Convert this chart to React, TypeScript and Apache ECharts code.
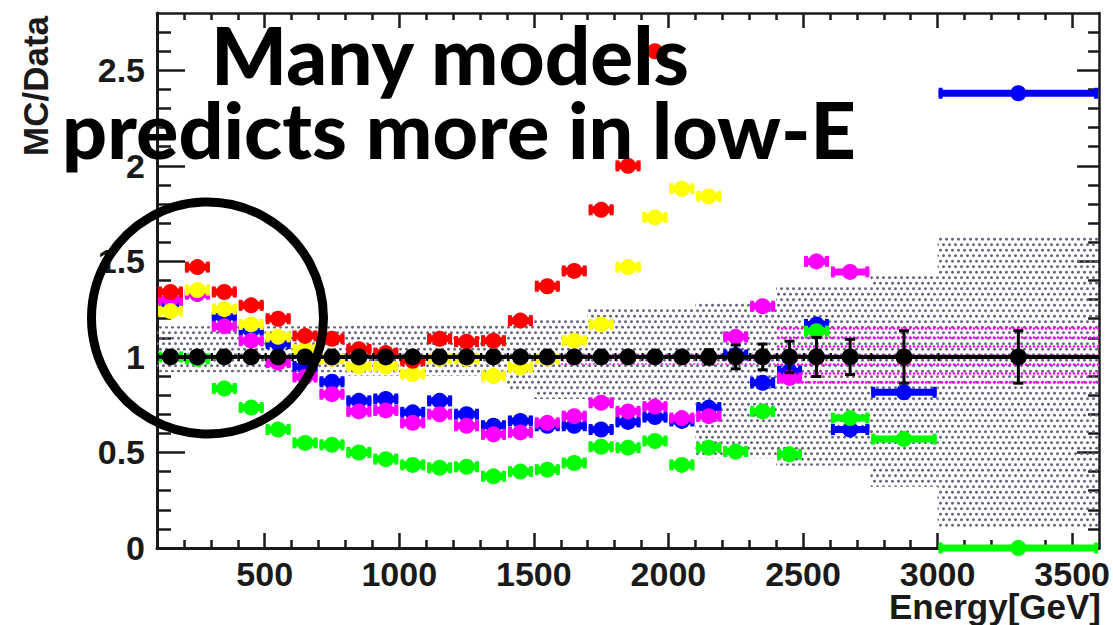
import React, { useEffect, useRef } from "react";
import * as echarts from "echarts";

// Energy bin edges (GeV): 100 GeV bins up to 2.6 TeV, then wider bins
const binEdges = [
  100, 200, 300, 400, 500, 600, 700, 800, 900, 1000, 1100, 1200, 1300, 1400, 1500,
  1600, 1700, 1800, 1900, 2000, 2100, 2200, 2300, 2400, 2500, 2600, 2750, 3000, 3600,
];

// MC/Data ratio of each model, one value per bin (null = not drawn)
const redRatio = [
  1.34, 1.47, 1.34, 1.27, 1.2, 1.11, 1.095, 1.04, 1.02, 0.98, 1.095, 1.08, 1.085, 1.19,
  1.37, 1.45, 1.77, 2.0, 2.6, null, null, null, null, null, null, null, null, null,
];
const yellowRatio = [
  1.24, 1.35, 1.25, 1.17, 1.105, 1.04, 0.99, 0.95, 0.95, 0.91, 0.99, 0.99, 0.9, 0.945,
  0.99, 1.085, 1.17, 1.47, 1.73, 1.88, 1.84, null, null, null, null, null, null, null,
];
const magentaRatio = [
  1.3, 1.33, 1.16, 1.085, 0.97, 0.895, 0.805, 0.715, 0.72, 0.655, 0.7, 0.64, 0.595, 0.605,
  0.655, 0.69, 0.76, 0.715, 0.74, 0.68, 0.69, 1.105, 1.265, 0.89, 1.5, 1.445, null, null,
];
const blueRatio = [
  1.28, 1.33, 1.21, 1.14, 1.07, 0.95, 0.87, 0.77, 0.78, 0.71, 0.77, 0.7, 0.64, 0.665,
  0.64, 0.64, 0.62, 0.66, 0.685, 0.665, 0.735, 1.01, 0.865, 0.925, 1.17, 0.62, 0.815, 2.38,
];
const greenRatio = [
  1.0, 0.99, 0.835, 0.735, 0.62, 0.55, 0.54, 0.5, 0.465, 0.435, 0.42, 0.425, 0.375, 0.4,
  0.41, 0.445, 0.53, 0.525, 0.56, 0.435, 0.525, 0.505, 0.715, 0.49, 1.135, 0.68, 0.57, 0.0,
];

// Data points (ratio to itself) and their statistical errors
const dataRatio = [
  1, 1, 1, 1, 1, 1, 1, 1, 1, 1, 1, 1, 1, 1, 1, 1, 1, 1, 1, 1, 1, 1, 1, 1, 1, 1, 1, 1,
];
const dataError = [
  0.015, 0.015, 0.015, 0.015, 0.015, 0.015, 0.015, 0.015, 0.015, 0.015, 0.015, 0.015,
  0.015, 0.015, 0.015, 0.015, 0.015, 0.015, 0.02, 0.025, 0.04, 0.065, 0.07, 0.085, 0.105,
  0.095, 0.14, 0.14,
];

// Systematic uncertainty band (grey)
const systLow = [
  0.92, 0.92, 0.92, 0.92, 0.92, 0.92, 0.92, 0.9, 0.9, 0.9, 0.9, 0.9, 0.9, 0.83, 0.78,
  0.78, 0.76, 0.76, 0.76, 0.76, 0.47, 0.47, 0.47, 0.43, 0.43, 0.43, 0.32, 0.11,
];
const systHigh = [
  1.16, 1.16, 1.16, 1.16, 1.16, 1.16, 1.16, 1.17, 1.17, 1.17, 1.17, 1.17, 1.17, 1.18, 1.2,
  1.2, 1.26, 1.26, 1.26, 1.26, 1.29, 1.29, 1.29, 1.37, 1.37, 1.37, 1.43, 1.63,
];

// Second uncertainty band (magenta), high-energy part only
const altLow = [
  null, null, null, null, null, null, null, null, null, null, null, null, null, null, null,
  0.96, 0.96, 0.96, 0.96, 0.96, 0.96, 0.96, 0.96, 0.83, 0.83, 0.83, 0.83, 0.83,
];
const altHigh = [
  null, null, null, null, null, null, null, null, null, null, null, null, null, null, null,
  1.04, 1.04, 1.04, 1.04, 1.04, 1.04, 1.04, 1.04, 1.16, 1.16, 1.16, 1.16, 1.16,
];

const xRange = [100, 3600];
const yRange = [0, 2.8];
const xMajorTicks = [500, 1000, 1500, 2000, 2500, 3000, 3500];
const yMajorTicks = [0, 0.5, 1, 1.5, 2, 2.5];

function minorTicks(start: number, stop: number, step: number, majors: number[]) {
  const out: number[] = [];
  for (let k = Math.round(start / step); k * step <= stop + 1e-9; k++) {
    const v = +(k * step).toFixed(6);
    if (!majors.some((m) => Math.abs(m - v) < 1e-9)) out.push(v);
  }
  return out;
}
const xMinorTicks = minorTicks(200, 3500, 100, xMajorTicks);
const yMinorTicks = minorTicks(0.1, 2.7, 0.1, yMajorTicks);

const ink = "#1a1a1a";
const labelText = {
  fontFamily: "'Liberation Sans', Arial, sans-serif",
  fontWeight: "bold" as const,
  fontSize: 34,
  color: ink,
  formatter: (v: number) => String(v),
};

function binned(values: (number | null)[]) {
  const out: number[][] = [];
  values.forEach((v, i) => {
    if (v !== null) out.push([binEdges[i], binEdges[i + 1], v]);
  });
  return out;
}

function bandData(lo: (number | null)[], hi: (number | null)[]) {
  const out: number[][] = [];
  lo.forEach((v, i) => {
    const h = hi[i];
    if (v !== null && h !== null) out.push([binEdges[i], binEdges[i + 1], v, h]);
  });
  return out;
}

function dotPattern(w: number, h: number, dots: number[][], r: number, color: string) {
  const c = document.createElement("canvas");
  c.width = w;
  c.height = h;
  const ctx = c.getContext("2d")!;
  ctx.fillStyle = color;
  for (const [x, y] of dots) {
    ctx.beginPath();
    ctx.arc(x, y, r, 0, Math.PI * 2);
    ctx.fill();
  }
  return c;
}

function modelRenderer(color: string) {
  return (_params: any, api: any) => {
    const lo = api.value(0);
    const hi = api.value(1);
    const v = api.value(2);
    const p0 = api.coord([lo, v]);
    const p1 = api.coord([hi, v]);
    const cx = (p0[0] + p1[0]) / 2;
    const cy = p0[1];
    const bar = 7;
    const cap = 11;
    const capW = 4;
    return {
      type: "group",
      children: [
        {
          type: "rect",
          shape: { x: p0[0] + 1, y: cy - bar / 2, width: p1[0] - p0[0] - 2, height: bar },
          style: { fill: color },
        },
        {
          type: "rect",
          shape: { x: p0[0] + 1, y: cy - cap / 2, width: capW, height: cap },
          style: { fill: color },
        },
        {
          type: "rect",
          shape: { x: p1[0] - 1 - capW, y: cy - cap / 2, width: capW, height: cap },
          style: { fill: color },
        },
        { type: "circle", shape: { cx, cy, r: 8 }, style: { fill: color } },
      ],
    };
  };
}

function dataRenderer(_params: any, api: any) {
  const lo = api.value(0);
  const hi = api.value(1);
  const v = api.value(2);
  const err = api.value(3);
  const p0 = api.coord([lo, v]);
  const p1 = api.coord([hi, v]);
  const cx = (p0[0] + p1[0]) / 2;
  const cy = p0[1];
  const top = api.coord([lo, v + err])[1];
  const bot = api.coord([lo, v - err])[1];
  return {
    type: "group",
    children: [
      { type: "rect", shape: { x: p0[0], y: cy - 2, width: p1[0] - p0[0], height: 4 }, style: { fill: "#000" } },
      { type: "rect", shape: { x: p0[0], y: cy - 4, width: 2, height: 8 }, style: { fill: "#000" } },
      { type: "rect", shape: { x: cx - 1.5, y: top, width: 3, height: bot - top }, style: { fill: "#000" } },
      { type: "rect", shape: { x: cx - 5, y: top - 1, width: 10, height: 3 }, style: { fill: "#000" } },
      { type: "rect", shape: { x: cx - 5, y: bot - 2, width: 10, height: 3 }, style: { fill: "#000" } },
      { type: "circle", shape: { cx, cy, r: 8.5 }, style: { fill: "#000" } },
    ],
  };
}

function bandRenderer(pattern: HTMLCanvasElement) {
  return (_params: any, api: any) => {
    const a = api.coord([api.value(0), api.value(3)]);
    const b = api.coord([api.value(1), api.value(2)]);
    return {
      type: "rect",
      shape: { x: a[0], y: a[1], width: b[0] - a[0], height: b[1] - a[1] },
      style: { fill: { image: pattern, repeat: "repeat" } },
    };
  };
}

function xAxisDef(position: "top" | "bottom", ticks: number[], len: number, line: number, labels: boolean) {
  return {
    type: "value",
    min: xRange[0],
    max: xRange[1],
    position,
    axisLine: { show: line > 0, onZero: false, lineStyle: { color: ink, width: line || 1 } },
    axisTick: { show: true, inside: true, length: len, customValues: ticks, lineStyle: { color: ink, width: 2.5 } },
    axisLabel: labels ? { show: true, customValues: ticks, margin: 9, ...labelText } : { show: false },
    splitLine: { show: false },
  };
}

function yAxisDef(position: "left" | "right", ticks: number[], len: number, line: number, labels: boolean) {
  return {
    type: "value",
    min: yRange[0],
    max: yRange[1],
    position,
    axisLine: { show: line > 0, onZero: false, lineStyle: { color: ink, width: line || 1 } },
    axisTick: { show: true, inside: true, length: len, customValues: ticks, lineStyle: { color: ink, width: 2.5 } },
    axisLabel: labels ? { show: true, customValues: ticks, margin: 12, ...labelText } : { show: false },
    splitLine: { show: false },
  };
}

export default function App() {
  const ref = useRef<HTMLDivElement>(null);

  useEffect(() => {
    if (!ref.current) return;
    const chart = echarts.init(ref.current, undefined, { renderer: "svg" });

    const greyDots = dotPattern(6, 11, [[1.5, 2.75], [4.5, 8.25]], 1.45, "#62627e");
    const magentaDots = dotPattern(4, 9, [[2, 4.5]], 1.3, "#ff00ff");

    const models: [string, (number | null)[]][] = [
      ["#0000ff", blueRatio],
      ["#00ff00", greenRatio],
      ["#ff00ff", magentaRatio],
      ["#ffff00", yellowRatio],
      ["#ff0000", redRatio],
    ];

    const dataPoints = dataRatio.map((v, i) => [binEdges[i], binEdges[i + 1], v, dataError[i]]);

    chart.setOption({
      animation: false,
      grid: { left: 157, right: 9, top: 13, bottom: 77, containLabel: false },
      xAxis: [
        xAxisDef("bottom", xMajorTicks, 15, 3, true),
        xAxisDef("bottom", xMinorTicks, 8, 0, false),
        xAxisDef("top", xMajorTicks, 15, 2.5, false),
        xAxisDef("top", xMinorTicks, 7, 0, false),
      ],
      yAxis: [
        yAxisDef("left", yMajorTicks, 28, 3, true),
        yAxisDef("left", yMinorTicks, 14, 0, false),
        yAxisDef("right", yMajorTicks, 22, 2.5, false),
        yAxisDef("right", yMinorTicks, 11, 0, false),
      ],
      series: [
        {
          type: "custom",
          name: "syst",
          renderItem: bandRenderer(greyDots),
          data: bandData(systLow, systHigh),
          encode: { x: [0, 1], y: [2, 3] },
          silent: true,
        },
        {
          type: "custom",
          name: "alt",
          renderItem: bandRenderer(magentaDots),
          data: bandData(altLow, altHigh),
          encode: { x: [0, 1], y: [2, 3] },
          silent: true,
        },
        ...models.map(([color, values]) => ({
          type: "custom",
          renderItem: modelRenderer(color),
          data: binned(values),
          encode: { x: [0, 1], y: 2 },
          clip: false,
        })),
        {
          type: "custom",
          name: "data",
          renderItem: dataRenderer,
          data: dataPoints,
          encode: { x: [0, 1], y: 2 },
        },
      ],
      graphic: [
        {
          type: "text",
          z: 100,
          x: 35,
          y: 86,
          rotation: Math.PI / 2,
          style: {
            text: "MC/Data",
            fontFamily: "'Liberation Sans', Arial, sans-serif",
            fontWeight: "bold",
            fontSize: 35,
            fill: ink,
            textAlign: "center",
            textVerticalAlign: "middle",
            align: "center",
            verticalAlign: "middle",
          },
        },
        {
          type: "text",
          z: 100,
          x: 1101,
          y: 606,
          style: {
            text: "Energy[GeV]",
            fontFamily: "'Liberation Sans', Arial, sans-serif",
            fontWeight: "bold",
            fontSize: 35,
            fill: ink,
            textAlign: "right",
            textVerticalAlign: "middle",
            align: "right",
            verticalAlign: "middle",
          },
        },
        {
          type: "text",
          z: 110,
          x: 450,
          y: 54,
          style: {
            text: "Many models",
            fontFamily: "Lato, 'Open Sans', sans-serif",
            fontWeight: 900,
            fontSize: 80,
            fill: "#000",
            textAlign: "center",
            textVerticalAlign: "middle",
            align: "center",
            verticalAlign: "middle",
          },
        },
        {
          type: "text",
          z: 110,
          x: 459,
          y: 128,
          style: {
            text: "predicts more in low-E",
            fontFamily: "Lato, 'Open Sans', sans-serif",
            fontWeight: 900,
            fontSize: 79,
            fill: "#000",
            textAlign: "center",
            textVerticalAlign: "middle",
            align: "center",
            verticalAlign: "middle",
          },
        },
        {
          type: "circle",
          z: 110,
          shape: { cx: 207.5, cy: 318, r: 116 },
          style: { fill: "none", stroke: "#000", lineWidth: 9 },
        },
      ],
    });

    return () => chart.dispose();
  }, []);

  return (
    <div
      ref={ref}
      style={{ position: "absolute", left: 0, top: 0, width: 1113, height: 625, background: "#fff" }}
    />
  );
}
